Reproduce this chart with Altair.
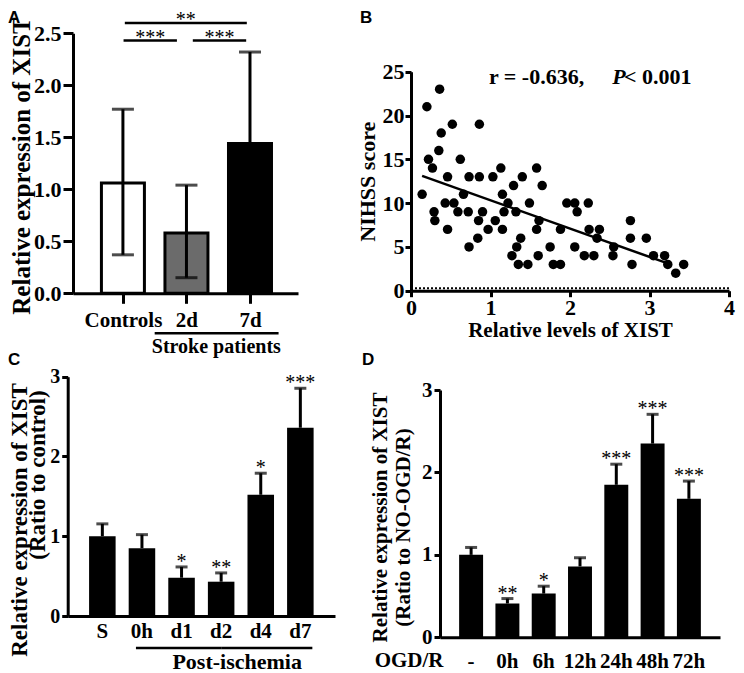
import altair as alt
import pandas as pd

SERIF = "Liberation Serif"
SANS = "Liberation Sans"

# ---------------- Panel A : patients ----------------
a_groups = ["Controls", "2d", "7d"]
a_pos = [0, 1, 2]
a_mean = [1.06, 0.58, 1.44]
a_low = [0.37, 0.15, 0.56]
a_high = [1.77, 1.04, 2.32]
a_fill = ["#ffffff", "#6b6b6b", "#000000"]
a_sig_from = [0.01, 1.10, 0.03]
a_sig_to = [0.85, 1.94, 1.95]
a_sig_level = [2.43, 2.43, 2.60]
a_sig_text = ["***", "***", "**"]

# ---------------- Panel B : correlation ----------------
b_xist = [0.14, 0.20, 0.36, 0.38, 0.35, 0.22, 0.27, 0.52, 0.46, 0.29,
          0.30, 0.46, 0.43, 0.54, 0.59, 0.62, 0.66, 0.72, 0.73, 0.73,
          0.84, 0.86, 0.86, 0.85, 0.90, 0.97, 1.03, 1.06, 1.13, 1.15,
          1.15, 1.17, 1.22, 1.32, 1.29, 1.40, 1.27, 1.33, 1.38, 1.35,
          1.47, 1.49, 1.58, 1.65, 1.61, 1.58, 1.60, 1.75, 1.79, 1.88,
          1.88, 1.96, 2.06, 2.09, 2.06, 2.18, 2.23, 2.24, 2.30, 2.37,
          2.34, 2.55, 2.54, 2.76, 2.76, 2.78, 2.96, 3.05, 3.19, 3.23,
          3.33, 3.43]
b_nihss = [11, 21, 23, 18, 16, 15, 14, 19, 13, 9,
           8, 7, 10, 10, 9, 15, 11, 9, 13, 5,
           6, 13, 19, 8, 9, 7, 13, 8, 14, 11,
           7, 9, 10, 9, 12, 13, 4, 5, 6, 3,
           3, 10, 14, 12, 8, 7, 4, 5, 3, 3,
           7, 10, 10, 9, 5, 4, 10, 7, 4, 7,
           6, 5, 4, 8, 6, 3, 6, 4, 4, 3,
           2, 3]
b_fit_x = [0.14, 3.22]
b_fit_y = [13.1, 3.15]

# ---------------- Panel C : MCAO time course ----------------
c_groups = ["S", "0h", "d1", "d2", "d4", "d7"]
c_mean = [1.00, 0.85, 0.48, 0.43, 1.52, 2.36]
c_high = [1.155, 1.02, 0.615, 0.54, 1.79, 2.855]
c_star = ["", "", "*", "**", "*", "***"]

# ---------------- Panel D : OGD/R time course ----------------
d_groups = ["-", "0h", "6h", "12h", "24h", "48h", "72h"]
d_mean = [1.00, 0.41, 0.53, 0.86, 1.85, 2.35, 1.68]
d_high = [1.09, 0.47, 0.62, 0.965, 2.10, 2.705, 1.895]
d_star = ["", "**", "*", "", "***", "***", "***"]

W, H = 728, 665   # whole drawing (one view), panels placed through scale ranges


def letter(ch, x, y):
    return alt.Chart(pd.DataFrame({"t": [ch]})).mark_text(
        font=SANS, fontWeight="bold", fontSize=17, align="left",
        baseline="top", color="black"
    ).encode(text="t:N", x=alt.value(x), y=alt.value(y))


def vtitle(txt, x, y, size):
    return alt.Chart(pd.DataFrame({"t": [txt]})).mark_text(
        font=SERIF, fontWeight="bold", fontSize=size, angle=270, align="center",
        baseline="middle", color="black"
    ).encode(text="t:N", x=alt.value(x), y=alt.value(y))


# ======== Panel A ========
a_df = pd.DataFrame(dict(pos=a_pos, mean=a_mean, low=a_low, high=a_high, fill=a_fill))
a_caps = pd.DataFrame({"pos": a_pos * 2, "cap": a_low + a_high})
a_sig = pd.DataFrame({"x1": a_sig_from, "x2": a_sig_to, "y": a_sig_level, "txt": a_sig_text})
a_sig["xm"] = (a_sig["x1"] + a_sig["x2"]) / 2

a_xs = alt.Scale(domain=[-0.707, 2.677], range=[65, 290], nice=False, zero=False)
a_ys = alt.Scale(domain=[0, 2.5], range=[285.3, 25.3], nice=False)
a_xaxis = alt.Axis(orient="bottom", offset=285.3 - H, values=a_pos,
                   labelExpr=f"{a_groups}[datum.value]", title=None, labelFlush=False,
                   tickSize=10, labelPadding=6, labelFontSize=21, labelAngle=0)
a_yaxis = alt.Axis(orient="left", offset=-65, values=[0, 0.5, 1, 1.5, 2, 2.5], format=".1f",
                   title=None, tickSize=10, labelPadding=2, labelFontSize=22)

a_bars = alt.Chart(a_df).mark_bar(size=43, stroke="black", strokeWidth=3).encode(
    x=alt.X("pos:Q", scale=a_xs, axis=a_xaxis),
    y=alt.Y("mean:Q", scale=a_ys, axis=a_yaxis),
    fill=alt.Fill("fill:N", scale=None))
a_err = alt.Chart(a_df).mark_rule(color="black", strokeWidth=3).encode(
    x="pos:Q", y="low:Q", y2="high:Q")
a_cap = alt.Chart(a_caps).mark_tick(orient="horizontal", size=22, thickness=3, color="black").encode(
    x="pos:Q", y="cap:Q")
a_br = alt.Chart(a_sig).mark_rule(color="black", strokeWidth=2.5).encode(
    x="x1:Q", x2="x2:Q", y="y:Q")
a_st = alt.Chart(a_sig).mark_text(font=SERIF, fontSize=20, baseline="alphabetic", dy=3,
                                  color="black").encode(x="xm:Q", y="y:Q", text="txt:N")
a_grp = alt.Chart(pd.DataFrame({"x1": [0.50], "x2": [2.45], "y": [-0.384]})).mark_rule(
    color="black", strokeWidth=2.5).encode(x="x1:Q", x2="x2:Q", y="y:Q")
a_grp_t = alt.Chart(pd.DataFrame({"x": [1.47], "y": [-0.52], "t": ["Stroke patients"]})).mark_text(
    font=SERIF, fontWeight="bold", fontSize=20, baseline="middle", color="black").encode(
    x="x:Q", y="y:Q", text="t:N")

panel_a = alt.layer(a_bars, a_err, a_cap, a_br, a_st, a_grp, a_grp_t,
                    vtitle("Relative expression of XIST", 13.5, 158, 25),
                    letter("A", 0, 2))

# ======== Panel B ========
b_df = pd.DataFrame({"xist": b_xist, "nihss": b_nihss})
b_fit = pd.DataFrame({"xist": b_fit_x, "nihss": b_fit_y})
b_xs = alt.Scale(domain=[0, 4], range=[403, 721], nice=False, zero=False)
b_ys = alt.Scale(domain=[0, 25], range=[282.7, 63.7], nice=False)
b_pts = alt.Chart(b_df).mark_circle(size=90, color="black", opacity=1).encode(
    x=alt.X("xist:Q", scale=b_xs,
            axis=alt.Axis(orient="bottom", offset=282.7 - H, values=[0, 1, 2, 3, 4], format="d",
                          labelFlush=False, title="Relative levels of XIST", titleFontSize=21,
                          tickSize=6, labelPadding=1, titlePadding=1, labelFontSize=22)),
    y=alt.Y("nihss:Q", scale=b_ys,
            axis=alt.Axis(orient="left", offset=-403, values=[0, 5, 10, 15, 20, 25], format="d",
                          title="NIHSS score", titleFontSize=22, tickSize=6, labelPadding=1,
                          titlePadding=3, labelFontSize=22)))
b_zero = alt.Chart(pd.DataFrame({"x1": [0], "x2": [4], "y": [0]})).mark_rule(
    color="black", strokeWidth=2, strokeDash=[2, 2], yOffset=-2.5).encode(
    x="x1:Q", x2="x2:Q", y="y:Q")
b_line = alt.Chart(b_fit).mark_line(color="black", strokeWidth=2.5).encode(x="xist:Q", y="nihss:Q")
b_t1 = alt.Chart(pd.DataFrame({"tx": [0.98, 2.68], "ty": [24.36, 24.36],
                               "t": ["r = -0.636,", "< 0.001"]})).mark_text(
    font=SERIF, fontWeight="bold", fontSize=22, align="left", baseline="middle", color="black").encode(
    x="tx:Q", y="ty:Q", text="t:N")
b_t2 = alt.Chart(pd.DataFrame({"tx": [2.53], "ty": [24.36], "t": ["P"]})).mark_text(
    font=SERIF, fontWeight="bold", fontStyle="italic", fontSize=22, align="left", baseline="middle",
    color="black").encode(x="tx:Q", y="ty:Q", text="t:N")

panel_b = alt.layer(b_pts, b_zero, b_line, b_t1, b_t2, letter("B", 352, 2))

# ======== Panel C ========
c_df = pd.DataFrame({"group": c_groups, "mean": c_mean, "high": c_high, "star": c_star})
c_xs = alt.Scale(domain=c_groups, range=[59.7, 327], paddingInner=0.33, paddingOuter=0.54)
c_ys = alt.Scale(domain=[0, 3], range=[608, 368.7], nice=False)
c_bars = alt.Chart(c_df).mark_bar(color="black").encode(
    x=alt.X("group:N", scale=c_xs, sort=c_groups,
            axis=alt.Axis(orient="bottom", offset=608 - H, title=None, ticks=False, tickSize=0,
                          labelPadding=4, labelAngle=0, labelFontSize=21)),
    y=alt.Y("mean:Q", scale=c_ys,
            axis=alt.Axis(orient="left", offset=-59.7, values=[0, 1, 2, 3], format="d",
                          title=None, tickSize=6, labelPadding=2, labelFontSize=20)))
c_err = alt.Chart(c_df).mark_rule(color="black", strokeWidth=3).encode(
    x=alt.X("group:N", sort=c_groups), y="mean:Q", y2="high:Q")
c_cap = alt.Chart(c_df).mark_tick(orient="horizontal", size=12, thickness=3, color="black").encode(
    x=alt.X("group:N", sort=c_groups), y="high:Q")
c_st = alt.Chart(c_df).mark_text(font=SERIF, fontSize=20, baseline="alphabetic", dy=1,
                                 color="black").encode(
    x=alt.X("group:N", sort=c_groups), y="high:Q", text="star:N")
c_line1 = alt.Chart(pd.DataFrame({"t": [0]})).mark_rule(
    color="black", strokeWidth=2.5, xOffset=-6).encode(
    x=alt.datum("0h"), x2=alt.datum("d2"), y=alt.datum(-0.40))
c_line2 = alt.Chart(pd.DataFrame({"t": [0]})).mark_rule(
    color="black", strokeWidth=2.5, xOffset=12).encode(
    x=alt.datum("d7"), x2=alt.datum("d2"), y=alt.datum(-0.40))
c_line_t = alt.Chart(pd.DataFrame({"t": ["Post-ischemia"]})).mark_text(
    font=SERIF, fontWeight="bold", fontSize=22, baseline="middle", dx=16, color="black").encode(
    x=alt.datum("d2"), y=alt.datum(-0.575), text="t:N")

panel_c = alt.layer(c_bars, c_err, c_cap, c_st, c_line1, c_line2, c_line_t,
                    vtitle("Relative expression of XIST", 11.5, 512, 23),
                    vtitle("(Ratio to control)", 30, 467, 23),
                    letter("C", 0, 344))

# ======== Panel D ========
d_df = pd.DataFrame({"group": d_groups, "mean": d_mean, "high": d_high, "star": d_star})
d_xs = alt.Scale(domain=d_groups, range=[432, 712], paddingInner=0.34, paddingOuter=0.527)
d_ys = alt.Scale(domain=[0, 3], range=[629.3, 382], nice=False)
d_bars = alt.Chart(d_df).mark_bar(color="black").encode(
    x=alt.X("group:N", scale=d_xs, sort=d_groups,
            axis=alt.Axis(orient="bottom", offset=629.3 - H, title=None, ticks=False, tickSize=0,
                          labelPadding=13, labelAngle=0, labelFontSize=21)),
    y=alt.Y("mean:Q", scale=d_ys,
            axis=alt.Axis(orient="left", offset=-432, values=[0, 1, 2, 3], format="d",
                          title=None, tickSize=6, labelPadding=2, labelFontSize=21)))
d_err = alt.Chart(d_df).mark_rule(color="black", strokeWidth=3).encode(
    x=alt.X("group:N", sort=d_groups), y="mean:Q", y2="high:Q")
d_cap = alt.Chart(d_df).mark_tick(orient="horizontal", size=12, thickness=3, color="black").encode(
    x=alt.X("group:N", sort=d_groups), y="high:Q")
d_st = alt.Chart(d_df).mark_text(font=SERIF, fontSize=20, baseline="alphabetic", dy=1,
                                 color="black").encode(
    x=alt.X("group:N", sort=d_groups), y="high:Q", text="star:N")
d_lab = alt.Chart(pd.DataFrame({"t": ["OGD/R"]})).mark_text(
    font=SERIF, fontWeight="bold", fontSize=21, baseline="top", dx=-62, color="black").encode(
    x=alt.datum("-"), y=alt.datum(-0.158), text="t:N")

panel_d = alt.layer(d_bars, d_err, d_cap, d_st, d_lab,
                    vtitle("Relative expression of XIST", 373, 509.5, 21),
                    vtitle("(Ratio to NO-OGD/R)", 396, 519.5, 21),
                    letter("D", 354, 344))

chart = alt.layer(panel_a, panel_b, panel_c, panel_d).resolve_scale(
    x="independent", y="independent"
).properties(
    width=W, height=H, padding=0, autosize=alt.AutoSizeParams(type="none")
).configure_view(stroke=None).configure_axis(
    domainColor="black", domainWidth=3, tickColor="black", tickWidth=3,
    labelColor="black", titleColor="black", labelFont=SERIF, titleFont=SERIF,
    labelFontWeight="bold", titleFontWeight="bold", grid=False
)

chart.save("out.html", embed_options={"renderer": "svg", "actions": False})
